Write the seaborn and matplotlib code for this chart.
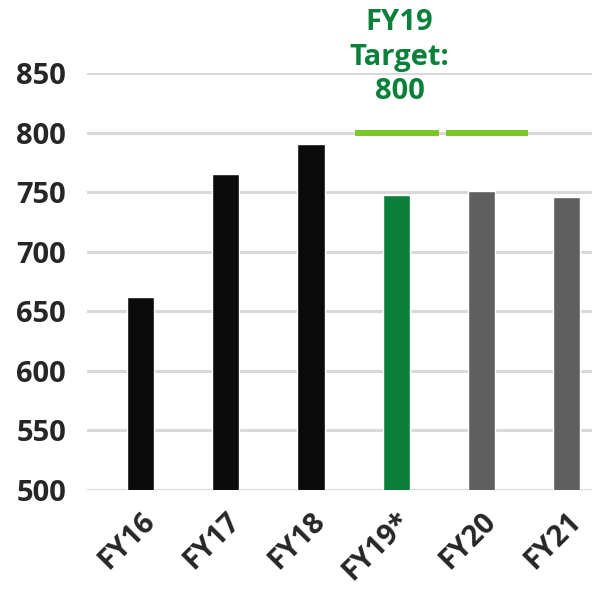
import matplotlib
matplotlib.use("Agg")
import matplotlib.pyplot as plt
import seaborn as sns
import pandas as pd

years = ["FY16", "FY17", "FY18", "FY19*", "FY20", "FY21"]
values = [662, 765, 790, 748, 751, 746]
bar_colors = ["#0b0b0b", "#0b0b0b", "#0b0b0b", "#0b803a", "#5f5f5f", "#5f5f5f"]
target = 800
target_spans = [(2.52, 3.50), (3.58, 4.55)]

sns.set_theme(style="white")
plt.rcParams["font.family"] = ["Open Sans", "DejaVu Sans"]

df = pd.DataFrame({"year": years, "value": values})

fig = plt.figure(figsize=(5.92, 5.90), dpi=100)
ax = fig.add_axes([0.147, 0.1695, 0.853, 0.7068])

sns.barplot(data=df, x="year", y="value", hue="year", palette=bar_colors,
            legend=False, width=0.32, saturation=1, ax=ax, zorder=3)

ax.set_ylim(500, 850)
ax.set_xlim(-0.63, 5.3)
ax.set_yticks(range(500, 851, 50))
ax.grid(axis="y", color="#d9d9d9", linewidth=2.2, zorder=0)
ax.set_axisbelow(True)
for s in ax.spines.values():
    s.set_visible(False)
ax.set_xlabel("")
ax.set_ylabel("")
ax.tick_params(axis="both", length=0, labelsize=21)
ax.tick_params(axis="y", pad=15)
ax.tick_params(axis="x", pad=12)
for lab in ax.get_yticklabels():
    lab.set_fontweight("bold")
for lab in ax.get_xticklabels():
    lab.set_fontweight("bold")
    lab.set_rotation(45)
    lab.set_ha("right")
    lab.set_va("top")
    lab.set_rotation_mode("anchor")

for x0, x1 in target_spans:
    ax.plot([x0, x1], [target, target], color="#7dc62a", linewidth=4.3,
            solid_capstyle="butt", zorder=4)

ax.text(3.04, 863, "FY19\nTarget:\n800", color="#0b803a", fontsize=21,
        fontweight="bold", ha="center", va="center", linespacing=1.25,
        clip_on=False)

fig.savefig("out.png", dpi=100)
